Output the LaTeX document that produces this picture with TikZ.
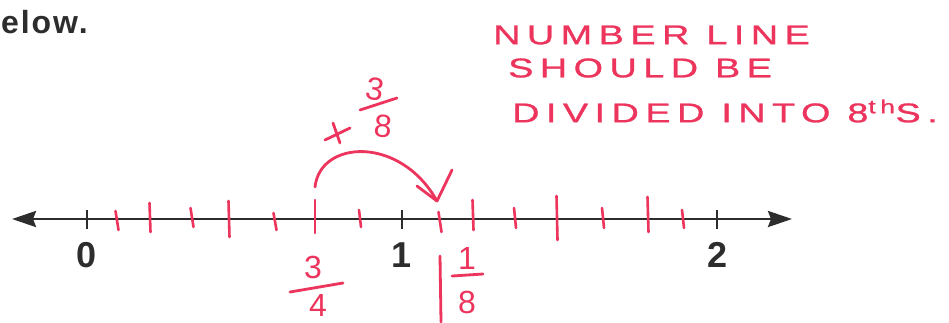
\documentclass[tikz,border=0pt]{standalone}
\usepackage{fontspec}
\setmainfont{Liberation Sans}
\newfontfamily\handfont[LetterSpace=24,FakeStretch=1.4,FakeBold=1]{Liberation Sans}
\newfontfamily\hdrfont[LetterSpace=6]{Liberation Sans}
\usetikzlibrary{arrows.meta}
\definecolor{pen}{RGB}{236,52,92}
\definecolor{ink}{RGB}{45,45,45}
\begin{document}
\begin{tikzpicture}[x=1pt,y=-1pt,
  redstroke/.style={draw=pen, line width=2.8pt, line cap=round, line join=round},
  redtxt/.style={text=pen, font=\fontsize{32}{32}\selectfont, inner sep=0pt},
  notetxt/.style={text=pen, font=\handfont\fontsize{27}{27}\selectfont, inner sep=0pt, anchor=west},
  numlbl/.style={text=ink, font=\fontsize{36}{36}\selectfont\bfseries, inner sep=0pt}]
\useasboundingbox (0,0) rectangle (949,322);
\fill[white] (0,0) rectangle (949,322);

% header fragment
\node[text=ink, font=\hdrfont\fontsize{32}{32}\selectfont\bfseries, inner sep=0pt, anchor=base west] (hdr) at (1,33) {elow.};

% handwritten note
\node[notetxt] (n1) at (493,35) {NUMBER LINE};
\node[notetxt] (n2) at (508,68) {SHOULD BE};
\node[notetxt] (n3) at (512,111) {DIVIDED INTO 8\textsuperscript{th}S.};

% number line
\coordinate (L) at (12,219);
\coordinate (R) at (792,219);
\draw[ink, line width=2.8pt, {Stealth[length=24pt,width=16pt,inset=3pt]}-{Stealth[length=24pt,width=16pt,inset=3pt]}] (L) -- (R);

% black ticks and labels
\foreach \x/\lab in {87/0, 402/1, 717/2}{
  \draw[draw=ink, line width=1.3pt] (\x,210) -- (\x,229);
  \node[numlbl] (lab\lab) at (\x,255) {\lab};
}

% red eighth ticks
\foreach \x/\t/\b/\s in {117/211/230/3, 150/203/232/1, 192/208/227/3, 229/201/237/1, 275/213/230/3, 315/200/233/0, 360/210/227/2, 440/212/232/3, 473/200/230/1, 515/208/228/2, 557/196/240/1, 603/208/228/2, 648/197/232/1, 683/210/228/2}{
  \draw[redstroke, line width=2.6pt] ({\x-\s/2},\t) -- ({\x+\s/2},\b);
}

% jump arc +3/8
\coordinate (as) at (315,187);
\coordinate (ae) at (437,201);
\draw[redstroke] (as) .. controls (320,140) and (400,135) .. (ae);
\coordinate (hl) at (417,186);
\coordinate (hr) at (452,170);
\draw[redstroke] (hl) -- (ae) -- (hr);

% plus sign
\draw[redstroke] (325,140) -- (350,128);
\draw[redstroke] (333,123) -- (340,143);
% 3/8
\node[redtxt, rotate=-10] (j3) at (375,89) {3};
\draw[redstroke] (360,110) -- (397,98);
\node[redtxt, rotate=-5] (j8) at (383,126) {8};

% 3/4 label
\node[redtxt] (q3) at (313,267) {3};
\draw[redstroke] (290,292) -- (343,283);
\node[redtxt] (q4) at (318,305) {4};

% 1/8 label
\coordinate (vt) at (440,256);
\coordinate (vb) at (441,322);
\draw[redstroke] (vt) -- (vb);
\node[redtxt] (e1) at (467,258) {1};
\draw[redstroke] (452,276) -- (483,274);
\node[redtxt] (e8) at (467,302) {8};
\end{tikzpicture}
\end{document}
